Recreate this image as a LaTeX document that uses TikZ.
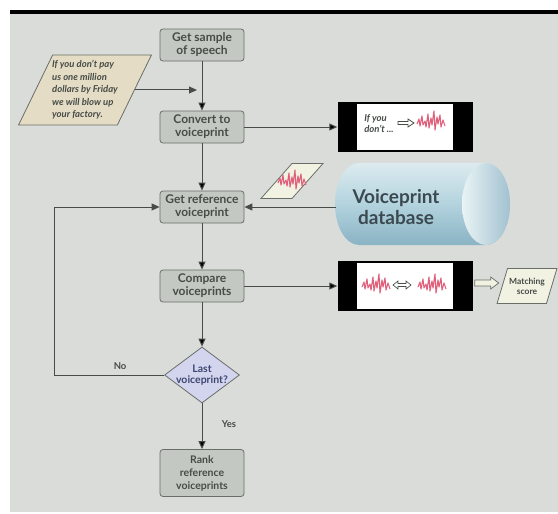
\documentclass[tikz,border=0pt]{standalone}
\usepackage{fontspec}
\setmainfont{Lato}
\usepackage{xcolor}
\usetikzlibrary{arrows.meta,positioning,shapes.geometric}

\definecolor{panel}{HTML}{D9DCD8}
\definecolor{boxfill}{HTML}{C4C8C3}
\definecolor{boxline}{HTML}{6A6E69}
\definecolor{ink}{HTML}{474C47}
\definecolor{cream}{HTML}{E4DCC4}
\definecolor{paper}{HTML}{F1F2E2}
\definecolor{lilac}{HTML}{D3D5EE}
\definecolor{lilacink}{HTML}{3C4670}
\definecolor{pinkline}{HTML}{E0607C}
\definecolor{dbdark}{HTML}{8AB3C4}
\definecolor{dbmid}{HTML}{B3D3DE}
\definecolor{dblight}{HTML}{DCEBEF}
\definecolor{dbink}{HTML}{3B4950}

\begin{document}
\begin{tikzpicture}[x=1pt,y=-1pt,node distance=80pt,on grid,
		stepbox/.style={rectangle, rounded corners=3pt, draw=boxline, fill=boxfill, line width=0.8pt,
			minimum width=84pt, minimum height=32pt, inner sep=1pt, align=center,
			font=\bfseries\fontsize{12}{13}\selectfont, text=ink},
		iobox/.style={trapezium, trapezium left angle=#1, trapezium right angle=180-#1,
			trapezium stretches=true, inner xsep=0pt, inner ysep=2pt,
			draw=boxline, fill=cream, line width=0.8pt, text=ink, align=center},
		decision/.style={diamond, draw=boxline, fill=lilac, line width=0.8pt,
			minimum width=75pt, minimum height=56pt, inner sep=0pt},
		screen/.style={rectangle, fill=black, minimum width=135pt, minimum height=50pt, inner sep=0pt},
		screenface/.style={rectangle, fill=white, minimum width=96pt, minimum height=46pt, inner sep=0pt},
		flow/.style={draw=ink, line width=1pt, -{Triangle[length=8pt,width=7pt]}},
		flowlabel/.style={font=\bfseries\fontsize{9.5}{10}\selectfont, text=ink},
		wavepen/.style={draw=pinkline, line width=1.1pt, line join=round},
		hollow/.style={draw=ink, fill=white, line width=0.7pt, line join=miter},
		wave/.pic={
			\draw[wavepen] (-14,2) -- (-12,-3) -- (-11,4) -- (-9,-6) -- (-8,3) -- (-6,-1)
				-- (-5,5) -- (-3,-8) -- (-2,6) -- (0,-4) -- (1,3) -- (3,-11) -- (4,8)
				-- (6,-5) -- (7,2) -- (9,-7) -- (10,5) -- (12,-2) -- (14,4);
		},
		implyarrow/.pic={
			\draw[hollow] (-8,-1.5) -- (2,-1.5) -- (2,-4) -- (8,0) -- (2,4) -- (2,1.5) -- (-8,1.5) -- cycle;
		},
		iffarrow/.pic={
			\draw[hollow] (-9,0) -- (-4,-4) -- (-4,-1.5) -- (4,-1.5) -- (4,-4) -- (9,0)
				-- (4,4) -- (4,1.5) -- (-4,1.5) -- (-4,4) -- cycle;
		}]
	% frame
	\useasboundingbox (0,0) rectangle (558,514);
	\fill[white] (0,0) rectangle (558,514);
	\fill[panel] (10,13) rectangle (558,512);
	\fill[black] (10,10) rectangle (558,13.5);

	% main column
	\node[stepbox] (sample) at (202,45) {Get sample\\of speech};
	\node[stepbox] (convert) [below=82pt of sample] {Convert to\\voiceprint};
	\node[stepbox] (getref) [below=80pt of convert] {Get reference\\voiceprint};
	\node[stepbox] (compare) [below=79pt of getref] {Compare\\voiceprints};
	\node[decision] (last) [below=89pt of compare] {};
	\node[font=\bfseries\fontsize{10.5}{11.5}\selectfont, text=lilacink, align=center] (lasttext) at (last) {Last\\voiceprint?};
	\node[stepbox, minimum height=47pt, font=\bfseries\fontsize{10.5}{13}\selectfont] (rank) [below=98pt of last] {Rank\\reference\\voiceprints};

	% the spoken text
	\node[iobox=65, minimum height=70pt, minimum width=133pt, inner xsep=-5pt, align=left,
		font=\bfseries\itshape\fontsize{9.5}{12.5}\selectfont] (quote) at (85,90)
		{If you don't pay\\us one million\\dollars by Friday\\we will blow up\\your factory.};

	% screens
	\node[screen] (screenA) [right=203pt of convert] {};
	\node[screenface] (faceA) at (screenA) {};
	\node[font=\bfseries\itshape\fontsize{9.5}{11}\selectfont, text=ink, align=left, inner sep=0pt] (ifyou)
		at ([xshift=-26pt,yshift=3pt]screenA.center) {If you\\don't ...};
	\pic at ([xshift=1pt,yshift=4pt]screenA.center) {implyarrow};
	\pic at ([xshift=26pt,yshift=5pt]screenA.center) {wave};

	\node[screen] (screenB) [right=203pt of compare] {};
	\node[screenface] (faceB) at (screenB) {};
	\pic at ([xshift=-29pt,yshift=1pt]screenB.center) {wave};
	\pic at ([xshift=-3pt,yshift=1pt]screenB.center) {iffarrow};
	\pic at ([xshift=27pt,yshift=1pt]screenB.center) {wave};

	\node[iobox=70, fill=paper, minimum height=35pt, minimum width=60pt, inner xsep=-4pt,
		font=\bfseries\fontsize{8.5}{10}\selectfont] (score) [right=122pt of screenB] {Matching\\score};

	% reference voiceprint sample
	\node[iobox=70, fill=paper, minimum height=35pt, minimum width=62pt] (refwave) at (292,181) {};
	\pic at (refwave) {wave};

	% database
	\shade[top color=dblight, bottom color=dbdark, middle color=dbmid]
		(359,163) -- (486,163) arc[start angle=-90, end angle=90, x radius=24, y radius=41]
		-- (359,245) arc[start angle=90, end angle=270, x radius=24, y radius=41] -- cycle;
	\shade[left color=dblight!60!white, right color=dbdark!80!white]
		(486,204) ellipse[x radius=24, y radius=41];
	\node[font=\bfseries\fontsize{19}{21}\selectfont, text=dbink, align=center] (db) at (396,207) {Voiceprint\\database};
	\coordinate (dbport) at (336,207);

	% connectors
	\path[flow]
		(sample) edge (convert)
		(convert) edge (getref)
			edge (screenA)
		(getref) edge (compare)
		(compare) edge (last)
			edge (screenB)
		(last) edge node[flowlabel, right=16pt, pos=0.45] {Yes} (rank);
	\draw[flow] (dbport) -- (getref.east);
	\draw[flow, shorten >=5pt] (quote.east) -- (quote.east -| sample.south);
	\draw[flow] (last.west) -- node[flowlabel, above=2pt, pos=0.4] {No} ++(-110,0) |- (getref.west);
	\draw[hollow, fill=paper, draw=boxline]
		(screenB.east) ++(2,-6) -- ++(16,0) -- ++(0,-3) -- ++(8,6) -- ++(-8,6) -- ++(0,-3) -- ++(-16,0) -- cycle;
\end{tikzpicture}
\end{document}
